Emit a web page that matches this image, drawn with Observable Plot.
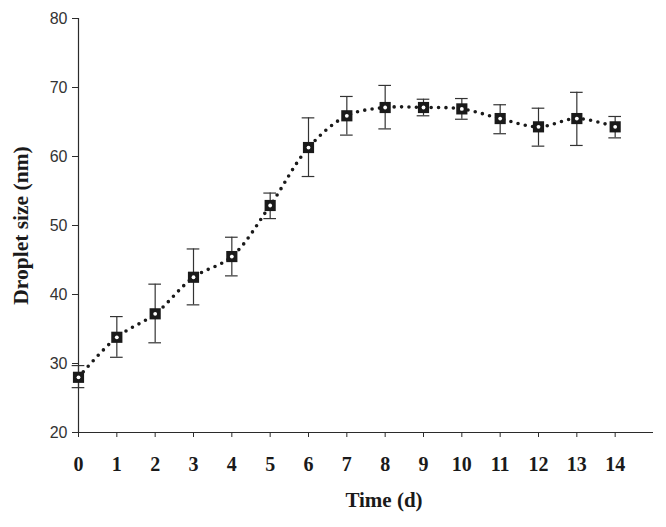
<!DOCTYPE html>
<html>
<head>
<meta charset="utf-8">
<script src="https://cdn.jsdelivr.net/npm/d3@7"></script>
<script src="https://cdn.jsdelivr.net/npm/@observablehq/plot@0.6"></script>
<style>
  html, body { margin: 0; padding: 0; background: #fff; }
</style>
</head>
<body>
<div id="chart"></div>
<script>
const days = [0, 1, 2, 3, 4, 5, 6, 7, 8, 9, 10, 11, 12, 13, 14];
const dropletSize = [28.0, 33.8, 37.2, 42.5, 45.5, 52.9, 61.3, 65.9, 67.1, 67.1, 66.9, 65.5, 64.3, 65.5, 64.3];
const errLow  = [26.5, 30.9, 33.0, 38.5, 42.7, 51.0, 57.1, 63.1, 64.0, 65.9, 65.4, 63.3, 61.5, 61.6, 62.7];
const errHigh = [29.7, 36.8, 41.5, 46.6, 48.3, 54.7, 65.6, 68.7, 70.3, 68.3, 68.4, 67.5, 67.0, 69.3, 65.8];
const yTicks = [20, 30, 40, 50, 60, 70, 80];
const xLabel = "Time (d)";
const yLabel = "Droplet size (nm)";

const data = days.map((t, i) => ({t, v: dropletSize[i], lo: errLow[i], hi: errHigh[i]}));
const capHalf = 0.165;
const axisColor = "#2b2b2b";
const serif = "'Liberation Serif', 'Times New Roman', serif";
const sans = "'Liberation Sans', Arial, sans-serif";

const chart = Plot.plot({
  width: 666,
  height: 527,
  marginLeft: 78,
  marginRight: 13,
  marginTop: 18,
  marginBottom: 95,
  style: {background: "#fff", color: axisColor},
  x: {domain: [0, 15]},
  y: {domain: [20, 80]},
  marks: [
    Plot.ruleY([20], {stroke: axisColor, strokeWidth: 1.2}),
    Plot.ruleX([0], {stroke: axisColor, strokeWidth: 1.2}),
    Plot.axisY({ticks: yTicks, tickSize: 6, tickPadding: 5, label: null,
      fontSize: 16, fontFamily: sans, stroke: axisColor, fill: "#333"}),
    Plot.axisX({ticks: days, tickSize: 5, tickPadding: 19, label: null,
      fontSize: 20, fontWeight: "bold", fontFamily: serif, stroke: axisColor, fill: "#1a1a1a"}),
    Plot.ruleX(data, {x: "t", y1: "lo", y2: "hi", stroke: "#333", strokeWidth: 1.2}),
    Plot.ruleY(data, {y: "hi", x1: d => d.t - capHalf, x2: d => d.t + capHalf, stroke: "#333", strokeWidth: 1.2}),
    Plot.ruleY(data, {y: "lo", x1: d => d.t - capHalf, x2: d => d.t + capHalf, stroke: "#333", strokeWidth: 1.2}),
    Plot.line(data, {x: "t", y: "v", curve: "catmull-rom", stroke: "#1a1a1a",
      strokeWidth: 3.6, strokeDasharray: "0 7.4", strokeLinecap: "round"}),
    Plot.dot(data, {x: "t", y: "v", symbol: "square", r: 6.3, fill: "#1a1a1a", stroke: "none"}),
    Plot.dot(data, {x: "t", y: "v", r: 1.9, fill: "#fff", stroke: "none"}),
    Plot.text([xLabel], {text: d => d, frameAnchor: "bottom", dx: 18, dy: 68, textAnchor: "middle",
      fontSize: 21, fontWeight: "bold", fontFamily: serif, fill: "#1a1a1a", lineAnchor: "middle"}),
    Plot.text([yLabel], {text: d => d, frameAnchor: "left", dx: -57, rotate: -90, textAnchor: "middle",
      fontSize: 21.5, fontWeight: "bold", fontFamily: serif, fill: "#1a1a1a", lineAnchor: "middle"})
  ]
});
document.getElementById("chart").appendChild(chart);
</script>
</body>
</html>
